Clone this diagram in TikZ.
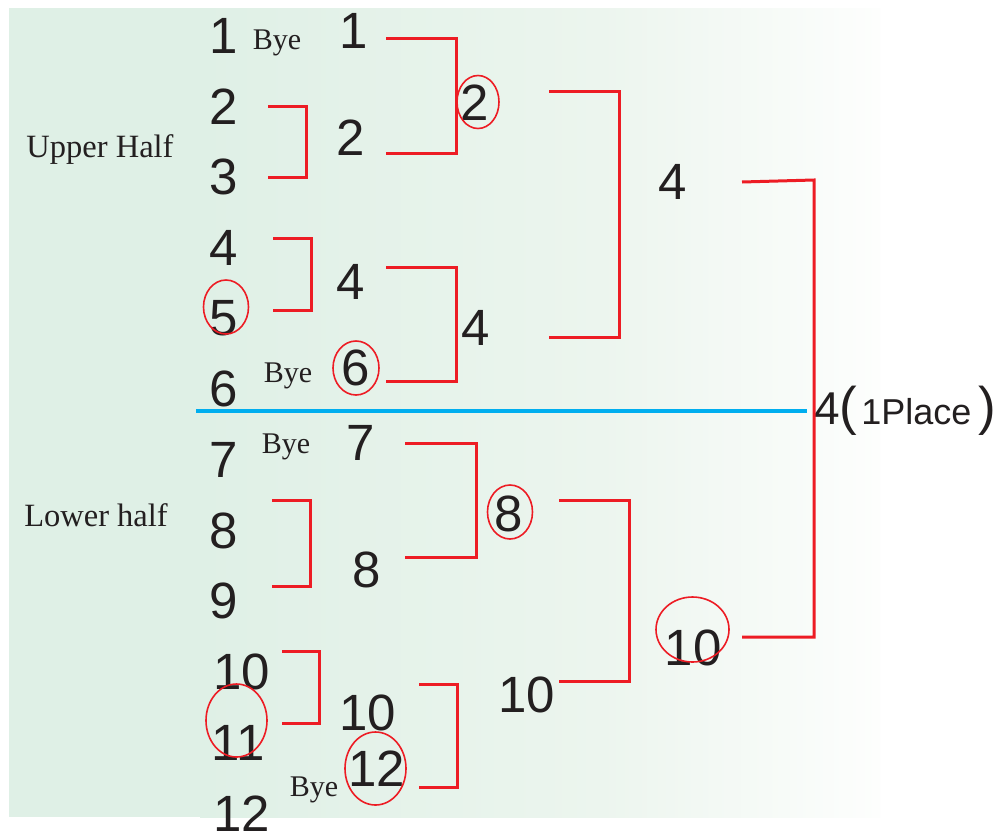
\documentclass[tikz,border=0pt]{standalone}
\usepackage{fontspec}
\setmainfont{Liberation Serif}
\newfontfamily\digfont{Liberation Sans}
\definecolor{brred}{RGB}{237,28,36}
\definecolor{ink}{RGB}{35,31,32}
\definecolor{bgl}{RGB}{223,240,230}
\definecolor{bgm}{RGB}{236,245,238}
\definecolor{bgr}{RGB}{253,254,253}
\definecolor{divblue}{RGB}{0,174,239}
\begin{document}
\begin{tikzpicture}[x=1pt,y=-1pt,
  dig/.style={inner sep=0pt,outer sep=0pt,text=ink,font=\digfont\fontsize{51}{60}\selectfont},
  byelab/.style={inner sep=0pt,anchor=base,text=ink,font=\fontsize{30}{36}\selectfont},
  halflab/.style={inner sep=0pt,anchor=base,text=ink,font=\fontsize{32.5}{36}\selectfont},
  br/.style={draw=brred,line width=3pt,line join=miter},
  ring/.style={draw=brred,line width=1.6pt},
  divline/.style={draw=divblue,line width=4.5pt}]
\useasboundingbox (0,0) rectangle (1001,833);
% background
\fill[white] (0,0) rectangle (1001,833);
\fill[bgl] (9,8) rectangle (201,817);
\shade[left color=bgl,right color=bgm] (200,8) rectangle (601,817);
\shade[left color=bgm,right color=bgr] (600,8) rectangle (880,817);
% divider
\coordinate (dvA) at (196,411);
\coordinate (dvB) at (807,411);
\draw[divline] (dvA) -- (dvB);
% half labels
\node[halflab] (upper) at (100,157) {Upper Half};
\node[halflab] (lower) at (96,526) {Lower half};
% first column
\node[dig] (l1) at (224,36) {1};
\node[dig] (l2) at (224,107) {2};
\node[dig] (l3) at (224,177) {3};
\node[dig] (l4) at (224,248) {4};
\node[dig] (l5) at (224,318) {5};
\node[dig] (l6) at (224,389) {6};
\node[dig] (l7) at (224,460) {7};
\node[dig] (l8) at (224,531) {8};
\node[dig] (l9) at (224,601) {9};
\node[dig] (l10) at (242,672) {10};
\node[dig] (l11) at (238,743) {11};
\node[dig] (l12) at (242,814) {12};
% byes
\node[byelab] (bye1) at (277,49) {Bye};
\node[byelab] (bye2) at (288,382) {Bye};
\node[byelab] (bye3) at (286,453) {Bye};
\node[byelab] (bye4) at (314,796) {Bye};
% second column
\node[dig] (m1) at (354,31) {1};
\node[dig] (m2) at (351,138) {2};
\node[dig] (m4) at (351,282) {4};
\node[dig] (m6) at (356,368) {6};
\node[dig] (m7) at (361,443) {7};
\node[dig] (m8) at (367,570) {8};
\node[dig] (m10) at (368,713) {10};
\node[dig] (m12) at (377,769) {12};
% third column
\node[dig] (q2) at (475,103) {2};
\node[dig] (q4) at (476,328) {4};
\node[dig] (q8) at (509,514) {8};
\node[dig] (q10) at (527,695) {10};
% fourth column
\node[dig] (s4) at (673,182) {4};
\node[dig] (s10) at (693,648) {10};
% winner
\node[inner sep=0pt,anchor=base west,text=ink] (win) at (814,424)
  {\digfont{\fontsize{46}{50}\selectfont 4}\kern0pt{\fontsize{53}{56}\selectfont(}\kern4pt{\fontsize{36}{40}\selectfont 1Place}\kern7pt{\fontsize{53}{56}\selectfont)}};
% rings
\draw[ring] (226,307) ellipse [x radius=22.5pt,y radius=27pt];
\draw[ring] (356,368) ellipse [x radius=23pt,y radius=27pt];
\draw[ring] (236.5,720.5) ellipse [x radius=30.5pt,y radius=36.5pt];
\draw[ring] (375.5,768.5) ellipse [x radius=30.5pt,y radius=36.5pt];
\draw[ring] (478,102) ellipse [x radius=21pt,y radius=26.5pt];
\draw[ring] (510,512) ellipse [x radius=22.5pt,y radius=27pt];
\draw[ring] (692.5,629.5) ellipse [x radius=36.5pt,y radius=32.5pt];
% brackets
\draw[br] (268,106) -| (306,177) -- (268,177);
\draw[br] (273,238) -| (311,310) -- (273,310);
\draw[br] (386,38) -| (456,153) -- (386,153);
\draw[br] (386,267) -| (456,381) -- (386,381);
\draw[br] (549,91) -| (619,337) -- (549,337);
\draw[br] (272,500) -| (310,586) -- (272,586);
\draw[br] (282,651) -| (319,723) -- (282,723);
\draw[br] (405,443) -| (476,557) -- (405,557);
\draw[br] (419,684) -| (457,787) -- (419,787);
\draw[br] (559,500) -| (629,681) -- (559,681);
\draw[br] (742,182) -- (814,180) -- (814,637) -- (742,637);
\end{tikzpicture}
\end{document}
